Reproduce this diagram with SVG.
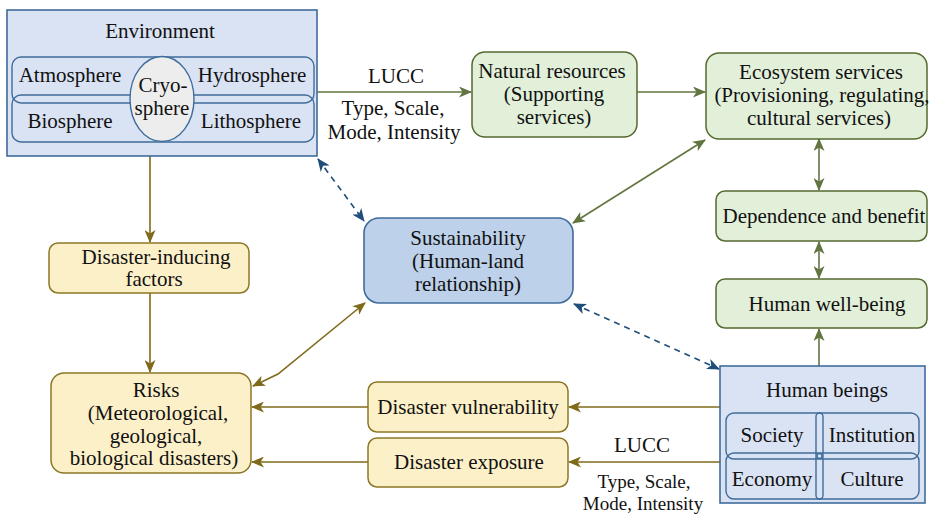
<svg xmlns="http://www.w3.org/2000/svg" width="930" height="515" viewBox="0 0 930 515">
  <style>
    .t { font-family: 'Liberation Serif', 'Times New Roman', serif; font-size: 21px; fill: #111; text-anchor: middle; }
    .s { font-size: 19px; }
    .env { fill: #dae3f3; stroke: #3f6c9b; stroke-width: 1.6; }
    .inner { fill: none; stroke: #3f6c9b; stroke-width: 1.4; }
    .sus { fill: #bdd1ea; stroke: #3f6c9b; stroke-width: 1.6; }
    .green { fill: #e2efd9; stroke: #56692f; stroke-width: 1.5; }
    .yellow { fill: #fcf0c9; stroke: #8c7726; stroke-width: 1.5; }
    .cg { fill: none; stroke: #627540; stroke-width: 1.6; }
    .cb { fill: none; stroke: #7f6a1a; stroke-width: 1.6; }
    .cd { fill: none; stroke: #1f4e79; stroke-width: 1.6; stroke-dasharray: 6 5; }
  </style>
  <defs>
    <marker id="ag" markerWidth="13" markerHeight="11" refX="12" refY="5.5" orient="auto-start-reverse" markerUnits="userSpaceOnUse">
      <path d="M0,0 L13,5.5 L0,11 L3.5,5.5 z" fill="#627540"/>
    </marker>
    <marker id="ab" markerWidth="13" markerHeight="11" refX="12" refY="5.5" orient="auto-start-reverse" markerUnits="userSpaceOnUse">
      <path d="M0,0 L13,5.5 L0,11 L3.5,5.5 z" fill="#7f6a1a"/>
    </marker>
    <marker id="ad" markerWidth="13" markerHeight="11" refX="12" refY="5.5" orient="auto-start-reverse" markerUnits="userSpaceOnUse">
      <path d="M0,0 L13,5.5 L0,11 L3.5,5.5 z" fill="#1f4e79"/>
    </marker>
  </defs>

  <!-- connectors and their labels -->
  <g id="connectors">
    <line class="cg" x1="317" y1="92" x2="471" y2="92" marker-end="url(#ag)"/>
    <line class="cg" x1="637" y1="92" x2="705" y2="92" marker-end="url(#ag)"/>
    <line class="cg" x1="573" y1="223" x2="705" y2="140" marker-start="url(#ag)" marker-end="url(#ag)"/>
    <line class="cg" x1="819" y1="139" x2="819" y2="190" marker-start="url(#ag)" marker-end="url(#ag)"/>
    <line class="cg" x1="819" y1="242" x2="819" y2="278" marker-start="url(#ag)" marker-end="url(#ag)"/>
    <line class="cg" x1="819" y1="366" x2="819" y2="329" marker-end="url(#ag)"/>

    <line class="cb" x1="150" y1="156" x2="150" y2="242" marker-end="url(#ab)"/>
    <line class="cb" x1="150" y1="293" x2="150" y2="372" marker-end="url(#ab)"/>
    <line class="cb" x1="720" y1="407" x2="569" y2="407" marker-end="url(#ab)"/>
    <line class="cb" x1="368" y1="407" x2="252" y2="407" marker-end="url(#ab)"/>
    <line class="cb" x1="720" y1="462" x2="569" y2="462" marker-end="url(#ab)"/>
    <line class="cb" x1="368" y1="462" x2="252" y2="462" marker-end="url(#ab)"/>
    <path class="cb" d="M365,303 L278,374 L253,386" marker-start="url(#ab)" marker-end="url(#ab)"/>

    <line class="cd" x1="318" y1="159" x2="364" y2="221" marker-start="url(#ad)" marker-end="url(#ad)"/>
    <line class="cd" x1="574" y1="304" x2="719" y2="369" marker-start="url(#ad)" marker-end="url(#ad)"/>

    <text class="t" x="396" y="83">LUCC</text>
    <text class="t" x="393" y="115">Type, Scale,</text>
    <text class="t" x="394" y="139">Mode, Intensity</text>
    <text class="t" x="642" y="452">LUCC</text>
    <text class="t s" x="644" y="488">Type, Scale,</text>
    <text class="t s" x="643" y="510">Mode, Intensity</text>
  </g>

  <!-- Environment -->
  <g id="environment">
    <rect class="env" x="7" y="10" width="310" height="146"/>
    <text class="t" x="160" y="38">Environment</text>
    <rect class="inner" x="12" y="57" width="302" height="46" rx="9"/>
    <rect class="inner" x="12" y="95" width="302" height="47" rx="9"/>
    <ellipse cx="162" cy="99" rx="32" ry="42.5" fill="#ededed" stroke="#3f6c9b" stroke-width="1.4"/>
    <text class="t" x="70" y="82">Atmosphere</text>
    <text class="t" x="252" y="82">Hydrosphere</text>
    <text class="t" x="70" y="128">Biosphere</text>
    <text class="t" x="251" y="128">Lithosphere</text>
    <text class="t" x="163" y="92">Cryo-</text>
    <text class="t" x="162" y="115">sphere</text>
  </g>

  <!-- Natural resources -->
  <g id="natural-resources">
    <rect class="green" x="472" y="52" width="165" height="85" rx="13"/>
    <text class="t" x="552" y="78">Natural resources</text>
    <text class="t" x="554" y="101">(Supporting</text>
    <text class="t" x="554" y="124">services)</text>
  </g>

  <!-- Ecosystem services -->
  <g id="ecosystem-services">
    <rect class="green" x="706" y="53" width="221" height="86" rx="13"/>
    <text class="t" x="821" y="79">Ecosystem services</text>
    <text class="t" x="822" y="102">(Provisioning, regulating,</text>
    <text class="t" x="819" y="125">cultural services)</text>
  </g>

  <!-- Dependence and benefit -->
  <g id="dependence">
    <rect class="green" x="716" y="191" width="211" height="50" rx="9"/>
    <text class="t" x="824" y="223">Dependence and benefit</text>
  </g>

  <!-- Human well-being -->
  <g id="well-being">
    <rect class="green" x="716" y="279" width="211" height="49" rx="9"/>
    <text class="t" x="827" y="311">Human well-being</text>
  </g>

  <!-- Sustainability -->
  <g id="sustainability">
    <rect class="sus" x="364" y="218" width="209" height="85" rx="15"/>
    <text class="t" x="468" y="245">Sustainability</text>
    <text class="t" x="468" y="268">(Human-land</text>
    <text class="t" x="468" y="291">relationship)</text>
  </g>

  <!-- Disaster-inducing factors -->
  <g id="disaster-inducing">
    <rect class="yellow" x="49" y="243" width="200" height="50" rx="9"/>
    <text class="t" x="156" y="264">Disaster-inducing</text>
    <text class="t" x="154" y="286">factors</text>
  </g>

  <!-- Risks -->
  <g id="risks">
    <rect class="yellow" x="51" y="373" width="200" height="100" rx="13"/>
    <text class="t" x="156" y="397">Risks</text>
    <text class="t" x="158" y="420">(Meteorological,</text>
    <text class="t" x="156" y="443">geological,</text>
    <text class="t" x="154" y="465">biological disasters)</text>
  </g>

  <!-- Disaster vulnerability -->
  <g id="vulnerability">
    <rect class="yellow" x="368" y="382" width="200" height="50" rx="9"/>
    <text class="t" x="468" y="414">Disaster vulnerability</text>
  </g>

  <!-- Disaster exposure -->
  <g id="exposure">
    <rect class="yellow" x="368" y="438" width="200" height="49" rx="9"/>
    <text class="t" x="469" y="469">Disaster exposure</text>
  </g>

  <!-- Human beings -->
  <g id="human-beings">
    <rect class="env" x="720" y="366" width="205" height="137"/>
    <text class="t" x="827" y="397">Human beings</text>
    <rect class="inner" x="726" y="413" width="193" height="46" rx="8"/>
    <rect class="inner" x="726" y="453" width="193" height="46" rx="8"/>
    <rect class="inner" x="816" y="413" width="7" height="86" rx="3.5"/>
    <circle cx="819.5" cy="456" r="2.5" class="inner"/>
    <text class="t" x="772" y="442">Society</text>
    <text class="t" x="872" y="442">Institution</text>
    <text class="t" x="772" y="486">Economy</text>
    <text class="t" x="872" y="486">Culture</text>
  </g>
</svg>
